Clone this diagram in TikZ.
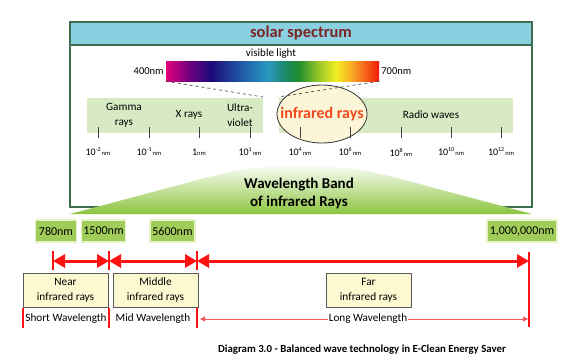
\documentclass[tikz,border=0pt]{standalone}
\usepackage{fontspec}
\setmainfont{Carlito}
\usetikzlibrary{arrows.meta,shapes.geometric}
\definecolor{FrameGreen}{HTML}{3B6F4F}
\definecolor{TitleBlue}{HTML}{8BD0E1}
\definecolor{TitleRed}{HTML}{7A2424}
\definecolor{BandGreen}{HTML}{D7EAC3}
\definecolor{EllCream}{HTML}{FDF5D8}
\definecolor{IRRed}{HTML}{F04A1C}
\definecolor{MoundTop}{HTML}{F8FCF2}
\definecolor{MoundGreen}{HTML}{8CC540}
\definecolor{ValGreen}{HTML}{A0CC5A}
\definecolor{ValEdge}{HTML}{E8F2C8}
\definecolor{BoxCream}{HTML}{FCF8D0}
\definecolor{RayRed}{HTML}{FF1212}
\definecolor{ThinRed}{HTML}{F25555}
\definecolor{SpMag}{HTML}{E4007C}
\definecolor{SpPurple}{HTML}{6E007F}
\definecolor{SpNavy}{HTML}{1C0A78}
\definecolor{SpBlue}{HTML}{2068AE}
\definecolor{SpCyan}{HTML}{2A98C0}
\definecolor{SpTeal}{HTML}{1B8A72}
\definecolor{SpGreen}{HTML}{1E8C2E}
\definecolor{SpLime}{HTML}{9CC828}
\definecolor{SpYellow}{HTML}{F2EE22}
\definecolor{SpOrange}{HTML}{F8A024}
\definecolor{SpRed}{HTML}{F01A0A}
\pgfdeclarehorizontalshading{visspectrum}{100bp}{color(0bp)=(SpMag); color(25bp)=(SpMag);
  color(30.5bp)=(SpPurple); color(35.5bp)=(SpNavy); color(44bp)=(SpBlue); color(49bp)=(SpCyan);
  color(52.5bp)=(SpTeal); color(56bp)=(SpGreen); color(61bp)=(SpLime); color(65bp)=(SpYellow);
  color(69bp)=(SpOrange); color(75bp)=(SpRed); color(100bp)=(SpRed)}
\newcommand{\tenexp}[1]{10\raisebox{4pt}{\fontsize{6}{6}\selectfont#1}{\fontsize{6.5}{7}\selectfont\,nm}}

\begin{document}
\begin{tikzpicture}[x=1pt,y=-1pt,font=\fontsize{11}{13}\selectfont,
  bandlab/.style={align=center,font=\fontsize{11.2}{15}\selectfont},
  ticklab/.style={inner sep=1pt,font=\fontsize{10}{11}\selectfont},
  valbox/.style={fill=ValGreen,draw=ValEdge,line width=1.8pt,minimum height=22pt,inner xsep=1.5pt,
    font=\fontsize{12}{13}\selectfont},
  irbox/.style={fill=BoxCream,draw=black!65,line width=0.8pt,minimum width=85pt,minimum height=34pt,
    align=center,inner sep=1pt,font=\fontsize{11.3}{15}\selectfont},
  wavelab/.style={inner sep=1pt,font=\fontsize{11.2}{13}\selectfont},
  bigarrow/.style={RayRed,line width=3pt,{Triangle[length=12pt,width=13pt]}-{Triangle[length=12pt,width=13pt]}},
  thinarrow/.style={ThinRed,line width=0.9pt,-{Triangle[length=5pt,width=5pt]}},
  redtick/.style={RayRed,line width=1.2pt}]
\useasboundingbox (0,0) rectangle (580,359);

% solar spectrum frame
\fill[TitleBlue] (70,22) rectangle (532,45);
\draw[FrameGreen,line width=1.3pt] (70,22) rectangle (532,207);
\draw[FrameGreen,line width=1.3pt] (70,45) -- (532,45);
\node[text=TitleRed,font=\bfseries\fontsize{16.5}{19}\selectfont] (title) at (301,33.5) {solar spectrum};

\node (vislab) at (271,54) {visible light};
\node[shade,shading=visspectrum,minimum width=213pt,minimum height=20pt,inner sep=0pt] (spec) at (272.5,71) {};
\node[anchor=east,inner sep=2pt,font=\fontsize{10.5}{11}\selectfont] (nm400) at (spec.west) {400nm};
\node[anchor=west,inner sep=2pt,font=\fontsize{10.5}{11}\selectfont] (nm700) at (spec.east) {700nm};

\fill[BandGreen] (87,98) rectangle (263,133);
\fill[BandGreen] (279,98) rectangle (513,133);
\node[ellipse,draw=black!80,fill=EllCream,line width=0.8pt,minimum width=90pt,minimum height=58pt] (irell) at (322,114) {};
\node[inner sep=0pt,text=IRRed,font=\bfseries\fontsize{16}{18}\selectfont] (irlab) at (irell.center) {infrared rays};
\coordinate (dl) at (263,97);
\coordinate (dr) at (278,97);
\draw[dashed,black!70,line width=0.7pt] (spec.south west) -- (dl);
\draw[dashed,black!70,line width=0.7pt] (spec.south east) -- (dr);

\node[bandlab] (gamma) at (124,115.5) {Gamma\\rays};
\node[bandlab] (xray) at (189,115) {X rays};
\node[bandlab] (uv) at (240,115.5) {Ultra-\\violet};
\node[bandlab] (radio) at (431,115) {Radio waves};

\foreach \x in {98,149,199,250,300,350,401,451,501} {\draw[black!75,line width=0.8pt] (\x,127) -- (\x,138);}
\foreach \x/\e [count=\i] in {98/{-2},149/{-1},250/1,300/4,350/6,401/8,451/10,501/12}
  {\node[ticklab] (t\i) at (\x,152) {\tenexp{\e}};}
\node[ticklab] (t0) at (199,152) {1{\fontsize{6.5}{7}\selectfont nm}};

% band of infrared rays
\shade[top color=MoundTop,bottom color=MoundGreen] (70,214) -- (190,182)
  .. controls (240,168) and (262,166) .. (301,166) .. controls (340,166) and (362,168) .. (412,182)
  -- (532,214) -- cycle;
\node[align=center,font=\bfseries\fontsize{15}{18.5}\selectfont] (bandtitle) at (299,193.5) {Wavelength Band\\of infrared Rays};

\node[valbox,minimum width=41pt] (v780) at (56,231) {780nm};
\node[valbox,minimum width=44pt] (v1500) at (103.5,231) {1500nm};
\node[valbox,minimum width=45pt] (v5600) at (172.5,231) {5600nm};
\node[valbox,minimum width=70pt] (v1m) at (522,231) {1,000,000nm};

\coordinate (m780) at (53,261);
\coordinate (m1500) at (109,261);
\coordinate (m5600) at (197,261);
\coordinate (m1m) at (529,261);
\foreach \x in {53,109,197} {\draw[redtick] (\x,251) -- (\x,270);}
\draw[redtick] (529,252) -- (529,327);
\draw[bigarrow] (m780) -- (m1500);
\draw[bigarrow] (m1500) -- (m5600);
\draw[bigarrow] (m5600) -- (m1m);

\node[irbox] (near) at (65.5,290) {Near\\infrared rays};
\node[irbox] (middle) at (155.5,290) {Middle\\infrared rays};
\node[irbox] (far) at (368.5,290) {Far\\infrared rays};

\foreach \x in {23,109,197} {\draw[redtick] (\x,308) -- (\x,328);}
\node[wavelab] (shortw) at (66,319) {Short Wavelength};
\node[wavelab] (midw) at (153,319) {Mid Wavelength};
\node[wavelab] (longw) at (368,319) {Long Wavelength};
\coordinate (lw0) at (200,319);
\coordinate (lw1) at (528,319);
\draw[thinarrow] (longw) -- (lw0);
\draw[thinarrow] (longw) -- (lw1);

\node[font=\bfseries\fontsize{10.8}{12}\selectfont] (caption) at (362,350) {Diagram 3.0 - Balanced wave technology in E-Clean Energy Saver};
\end{tikzpicture}
\end{document}
